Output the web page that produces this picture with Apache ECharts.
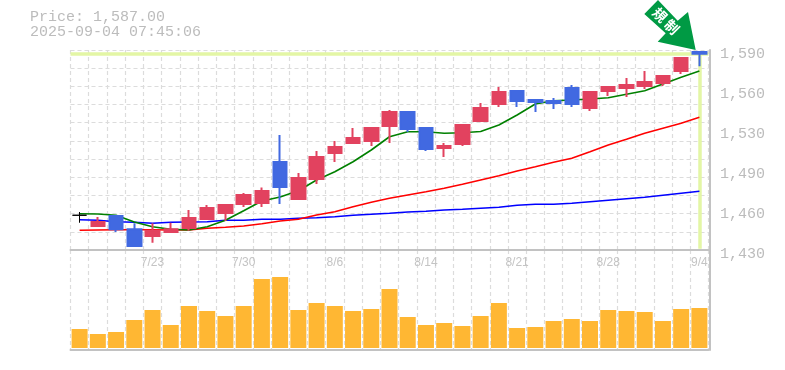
<!DOCTYPE html>
<html>
<head>
<meta charset="utf-8">
<style>html,body{margin:0;padding:0;background:#fff}#c{width:785px;height:370px}</style>
<script src="https://cdn.jsdelivr.net/npm/echarts@6/dist/echarts.min.js"></script>
</head>
<body>
<div id="c"></div>
<script>
const titleText = 'Price: 1,587.00\n2025-09-04 07:45:06';
const badgeChars = ['規', '制'];
const lastPrice = 1587;
const dates = ['7/16','7/17','7/18','7/22','7/23','7/24','7/25','7/28','7/29','7/30','7/31','8/1','8/4','8/5','8/6','8/7','8/8','8/12','8/13','8/14','8/15','8/18','8/19','8/20','8/21','8/22','8/25','8/26','8/27','8/28','8/29','9/1','9/2','9/3','9/4'];
const shownDates = ['7/23','7/30','8/6','8/14','8/21','8/28','9/4'];
const opens  = [1457.8,1449.2,1457.2,1446.6,1441.2,1444.4,1447.6,1454.8,1459.6,1466.8,1467.6,1500.4,1470.8,1486.8,1507.6,1515.6,1517.2,1529.2,1540.4,1527.6,1511.6,1514.8,1533.2,1546.8,1557.2,1550,1549.2,1559.6,1543.6,1557.2,1559.6,1561.2,1563.6,1573.2,1588.4];
const closes = [1457.8,1452.4,1446.6,1433.2,1445.4,1446.6,1455.6,1463.6,1466,1474,1477.2,1480.4,1487.6,1504.4,1512.4,1519.6,1527.6,1540.4,1526.8,1510.8,1513.2,1530,1543.6,1556.4,1549.2,1548.4,1547.6,1546.8,1556.4,1560.4,1562,1564.4,1569.2,1583.6,1587];
const lows   = [1451.8,1449.2,1444.4,1433.2,1435.8,1443.8,1445.4,1454.8,1453.2,1464.4,1464.4,1466.8,1470.8,1482.8,1500.4,1514.8,1513.2,1515.6,1524.4,1509.2,1504.4,1513.2,1532.4,1544.4,1544.4,1540.4,1542.8,1544.4,1541.2,1553.2,1552.4,1558.8,1561.2,1570.8,1577];
const highs  = [1460.4,1456.4,1457.2,1451.4,1451.4,1451.8,1462,1466,1466,1475.6,1480,1522,1491.6,1509.2,1517.2,1527.6,1528.4,1542,1540.4,1528.4,1515.6,1530,1547.6,1560.4,1557.2,1550,1551.6,1562,1557.2,1560.4,1567.6,1573.2,1569.2,1583.6,1589];
const maShort = [1459,1458.8,1457.8,1452.4,1448.6,1446.6,1446,1448.6,1453.8,1461.4,1469.2,1472.4,1477.4,1486,1492.6,1500.6,1510,1520.6,1524.6,1524.6,1523.4,1523.8,1524.8,1530,1538,1546.8,1549.4,1550,1550.8,1551.8,1554.6,1557.4,1562.8,1568.2,1573.2];
const maMid = [1445.8,1446,1446.2,1446.2,1446.2,1446,1446,1447.4,1448.2,1449.2,1451,1453.2,1454.6,1458,1460.6,1464.6,1468.2,1471.4,1474,1476.6,1479.4,1482.6,1486,1489.4,1493.2,1496.6,1500.2,1503.4,1508.6,1514,1518.6,1523.4,1527.4,1531.4,1536.2];
const maLong = [1454.2,1453.8,1452.6,1452.2,1451.4,1452.2,1452.4,1452.6,1453.8,1453.8,1454.6,1454.6,1455.4,1455.8,1456.6,1457.8,1458.6,1459.4,1460.4,1461,1462,1462.6,1463.4,1464.2,1465.8,1466.6,1466.6,1467.4,1468.6,1469.8,1471,1472.2,1473.8,1475.4,1477];
const volumes = [19,14,16,28,38,23,42,37,32,42,69,71,38,45,42,37,39,59,31,23,25,22,32,45,20,21,27,29,27,38,37,36,27,39,40];
const priceTicks = [1430,1462,1494,1526,1558,1590];
const gridTicks = [1590,1575.45,1560.9,1546.36,1531.82,1517.27,1502.73,1488.18,1473.64,1459.09,1444.55,1430];

const GREY = '#c2c2c2', DASH = '#dcdcdc', FAINT = '#e3f6a5', TEXT = '#bcbcbc';
const dashLine = {show:true, interval:0, lineStyle:{color:DASH, width:1.2, type:[4,3]}};
const candleData = dates.map((d,i)=>{
  const value=[opens[i],closes[i],lows[i],highs[i]];
  return i===0 ? {value, itemStyle:{color:'#000',color0:'#000',borderColor:'#000',borderColor0:'#000',borderWidth:1}} : {value};
});
const chart = echarts.init(document.getElementById('c'), null, {renderer:'canvas'});
const LEFT = 70.5, WIDTH = 638;
chart.setOption({
  animation:false,
  backgroundColor:'#fff',
  title:{text:titleText,left:30,top:10,padding:0,textStyle:{fontFamily:'Liberation Mono',fontSize:15,fontWeight:'normal',color:TEXT,lineHeight:15}},
  grid:[
    {left:LEFT,width:WIDTH,top:50,height:200},
    {left:LEFT,width:WIDTH,top:250,height:100}
  ],
  xAxis:[
    {type:'category',gridIndex:0,data:dates,boundaryGap:true,
     axisLine:{show:true,onZero:false,lineStyle:{color:GREY,width:2}},axisTick:{show:false},
     splitLine:dashLine,
     axisLabel:{show:true,color:'#c4c4c4',fontFamily:'Liberation Sans',fontSize:12,margin:7,
       interval:(i,v)=>shownDates.includes(v)}},
    {type:'category',gridIndex:1,data:dates,boundaryGap:true,
     axisLine:{show:true,onZero:false,lineStyle:{color:GREY,width:2}},axisTick:{show:false},
     splitLine:dashLine,axisLabel:{show:false}}
  ],
  yAxis:[
    {type:'value',gridIndex:0,min:1430,max:1590,position:'right',offset:1.5,
     axisLine:{show:true,lineStyle:{color:GREY,width:2}},
     axisTick:{show:false,customValues:gridTicks},
     splitLine:{show:true,lineStyle:{color:DASH,width:1.2,type:[4,3]}},
     axisLabel:{show:true,customValues:priceTicks,margin:10,verticalAlign:'top',lineHeight:9,color:TEXT,fontFamily:'Liberation Mono',fontSize:15,
       showMinLabel:true,showMaxLabel:true,hideOverlap:false,
       formatter:v=>(Math.round(v/10)*10).toLocaleString('en-US')}},
    {type:'value',gridIndex:1,min:-2,max:98,position:'right',offset:1.5,
     axisLine:{show:true,lineStyle:{color:GREY,width:2}},axisTick:{show:false},
     splitLine:{show:false},axisLabel:{show:false}}
  ],
  series:[
    {type:'line',name:'long',data:maLong,xAxisIndex:0,yAxisIndex:0,symbol:'none',z:2,lineStyle:{color:'#0000ff',width:1.6},
     markLine:{silent:true,symbol:'none',z:1,label:{show:false},lineStyle:{color:FAINT,width:3.5,type:'solid'},
       data:[{yAxis:lastPrice},[{coord:[dates[dates.length-1],lastPrice]},{coord:[dates[dates.length-1],1431]}]]}},
    {type:'line',name:'mid',data:maMid,xAxisIndex:0,yAxisIndex:0,symbol:'none',z:2,lineStyle:{color:'#ff0000',width:1.6}},
    {type:'line',name:'short',data:maShort,xAxisIndex:0,yAxisIndex:0,symbol:'none',z:2,lineStyle:{color:'#008000',width:1.6}},
    {type:'candlestick',name:'price',data:candleData,xAxisIndex:0,yAxisIndex:0,barWidth:14,z:3,
     itemStyle:{color:'#e2425f',color0:'#4169e1',borderColor:'#e2425f',borderColor0:'#4169e1',borderWidth:2}},
    {type:'bar',name:'volume',data:volumes,xAxisIndex:1,yAxisIndex:1,barWidth:16,itemStyle:{color:'#ffb733'}}
  ],
  graphic:[
    {type:'polygon',z:20,shape:{points:[[644.3,14],[658,0],[677.7,20.7],[688,12],[695.7,50],[657.7,41.7],[665.7,33.3]]},style:{fill:'#009a44'}},
    {type:'text',z:21,x:660,y:15,rotation:-Math.PI/4,style:{text:badgeChars[0],fill:'#fff',font:'bold 14px "Noto Sans CJK JP"',align:'center',verticalAlign:'middle'}},
    {type:'text',z:21,x:672,y:27,rotation:-Math.PI/4,style:{text:badgeChars[1],fill:'#fff',font:'bold 14px "Noto Sans CJK JP"',align:'center',verticalAlign:'middle'}}
  ]
});
</script>
</body>
</html>
